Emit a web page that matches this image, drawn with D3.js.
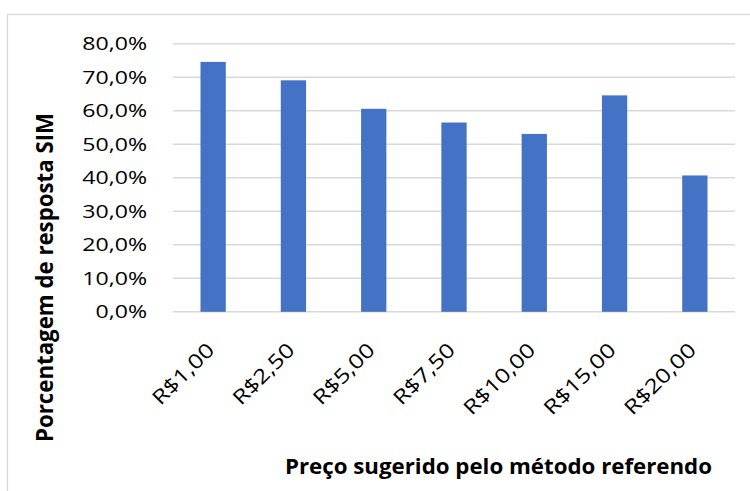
<!DOCTYPE html>
<html>
<head>
<meta charset="utf-8">
<script src="https://cdn.jsdelivr.net/npm/d3@7"></script>
<style>
  html, body { margin: 0; padding: 0; background: #fff; }
  svg { display: block; }
  text { font-family: "Open Sans", sans-serif; fill: #000; }
</style>
</head>
<body>
<script>
const categories = ["R$1,00", "R$2,50", "R$5,00", "R$7,50", "R$10,00", "R$15,00", "R$20,00"];
const values = [0.746, 0.691, 0.606, 0.565, 0.531, 0.646, 0.407];
const yTicks = [0, 0.1, 0.2, 0.3, 0.4, 0.5, 0.6, 0.7, 0.8];
const yTitle = "Porcentagem de resposta SIM";
const xTitle = "Preço sugerido pelo método referendo";

const W = 750, H = 491;
const plot = { left: 173, right: 735, top: 43.8, bottom: 311.8 };
const stretch = 1.23;

const svg = d3.select("body").append("svg").attr("width", W).attr("height", H);

// chart border
svg.append("rect")
  .attr("x", 7.5).attr("y", 14.5).attr("width", 800).attr("height", 520)
  .attr("fill", "none").attr("stroke", "#d9d9d9").attr("stroke-width", 1.3);

const x = d3.scaleBand().domain(categories)
  .range([plot.left, plot.right]).paddingInner(0.685).paddingOuter(0.3425);
const y = d3.scaleLinear().domain([0, 0.8]).range([plot.bottom, plot.top]);

const fmt = v => d3.format(".1f")(v * 100).replace(".", ",") + "%";

// gridlines
svg.append("g").selectAll("line").data(yTicks).join("line")
  .attr("x1", plot.left).attr("x2", plot.right)
  .attr("y1", d => y(d)).attr("y2", d => y(d))
  .attr("stroke", "#d9d9d9").attr("stroke-width", 1.4);

// bars
svg.append("g").selectAll("rect").data(values).join("rect")
  .attr("x", (d, i) => x(categories[i]))
  .attr("width", x.bandwidth())
  .attr("y", d => y(d))
  .attr("height", d => y(0) - y(d))
  .attr("fill", "#4472c4");

// y axis
const yAxis = svg.append("g")
  .attr("transform", `translate(${plot.left},0)`)
  .call(d3.axisLeft(y).tickValues(yTicks).tickFormat(fmt).tickSize(0).tickPadding(26));
yAxis.select(".domain").remove();
yAxis.selectAll("text")
  .style("font-family", "'Open Sans', sans-serif")
  .style("font-size", "18.8px")
  .attr("fill", "#000");

// x axis
const xAxis = svg.append("g")
  .attr("transform", `translate(0,${plot.bottom})`)
  .call(d3.axisBottom(x).tickSize(0).tickPadding(0));
xAxis.select(".domain").remove();
xAxis.selectAll("text")
  .style("font-family", "'Open Sans', sans-serif")
  .style("font-size", "20px")
  .attr("fill", "#000")
  .attr("dy", 0).attr("y", 0).attr("x", 0)
  .attr("text-anchor", "end")
  .attr("transform", "translate(2.5,39.5) rotate(-45)");

// stretch tick texts horizontally
svg.selectAll(".tick text").each(function() {
  const len = this.getComputedTextLength();
  d3.select(this).attr("textLength", len * stretch).attr("lengthAdjust", "spacingAndGlyphs");
});

// axis titles
svg.append("text")
  .attr("transform", "translate(53,277.5) rotate(-90)")
  .attr("text-anchor", "middle")
  .style("font-size", "22.5px").style("font-weight", "bold")
  .attr("textLength", 329).attr("lengthAdjust", "spacingAndGlyphs")
  .text(yTitle);

svg.append("text")
  .attr("x", 498.5).attr("y", 474.3)
  .attr("text-anchor", "middle")
  .style("font-size", "22px").style("font-weight", "bold")
  .attr("textLength", 427).attr("lengthAdjust", "spacingAndGlyphs")
  .text(xTitle);
</script>
</body>
</html>
